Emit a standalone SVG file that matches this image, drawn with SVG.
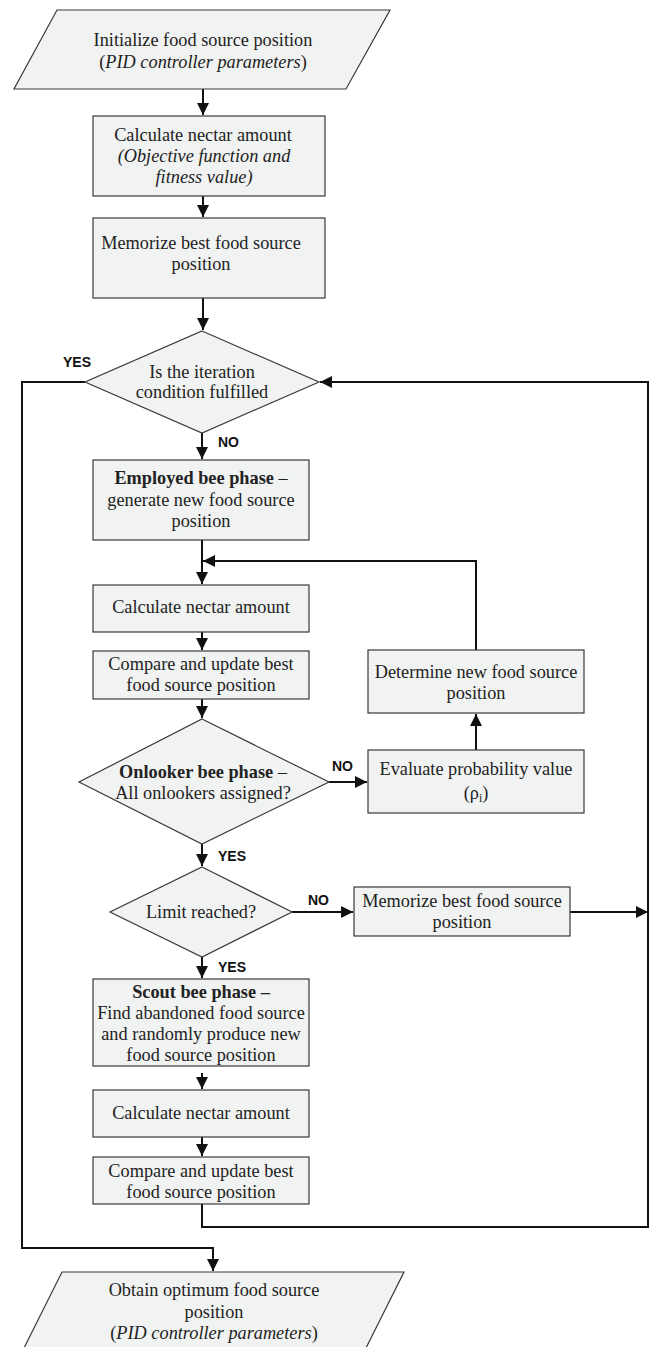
<svg xmlns="http://www.w3.org/2000/svg" width="650" height="1347" viewBox="0 0 650 1347">
<style>
.n{fill:#f1f3f2;stroke:#3a3a3a;stroke-width:1.2}
.t{font-family:"Liberation Serif","Times New Roman",serif;font-size:18.3px;fill:#222;text-anchor:middle}
.b{font-weight:bold}
.i{font-style:italic}
.l{font-family:"Liberation Sans",Arial,sans-serif;font-size:14px;font-weight:bold;fill:#111}
.c{fill:none;stroke:#111;stroke-width:2}
</style>
<defs>
<marker id="ah" markerUnits="userSpaceOnUse" markerWidth="13" markerHeight="12" refX="12" refY="6" orient="auto">
<path d="M0,0 L12,6 L0,12 Z" fill="#111"/>
</marker>
</defs>
<rect width="650" height="1347" fill="#fff"/>
<g id="connectors">
<path class="c" d="M203,89 V115" marker-end="url(#ah)"/>
<path class="c" d="M203,196 V217" marker-end="url(#ah)"/>
<path class="c" d="M203,298 V330" marker-end="url(#ah)"/>
<path class="c" d="M202,433 V459" marker-end="url(#ah)"/>
<path class="c" d="M202,540 V584" marker-end="url(#ah)"/>
<path class="c" d="M476,650 V561 H203" marker-end="url(#ah)"/>
<path class="c" d="M202,632 V650" marker-end="url(#ah)"/>
<path class="c" d="M202,699 V718" marker-end="url(#ah)"/>
<path class="c" d="M329,782 H367" marker-end="url(#ah)"/>
<path class="c" d="M476,750 V714" marker-end="url(#ah)"/>
<path class="c" d="M202,844 V866" marker-end="url(#ah)"/>
<path class="c" d="M292,912 H353" marker-end="url(#ah)"/>
<path class="c" d="M570,912 H648" marker-end="url(#ah)"/>
<path class="c" d="M202,957 V978" marker-end="url(#ah)"/>
<path class="c" d="M202,1073 V1089" marker-end="url(#ah)"/>
<path class="c" d="M202,1137 V1156" marker-end="url(#ah)"/>
<path class="c" d="M202,1204 V1227 H648 V382 H320" marker-end="url(#ah)"/>
<path class="c" d="M85,382 H22 V1248 H213 V1271" marker-end="url(#ah)"/>
<text class="l" x="63" y="367">YES</text>
<text class="l" x="218" y="447">NO</text>
<text class="l" x="332" y="771">NO</text>
<text class="l" x="218" y="861">YES</text>
<text class="l" x="308" y="905">NO</text>
<text class="l" x="218" y="972">YES</text>
</g>
<g id="init">
<polygon class="n" points="57,10 390,10 346,89 14,89"/>
<text class="t" x="203" y="46">Initialize food source position</text>
<text class="t" x="203" y="68">(<tspan class="i">PID controller  parameters</tspan>)</text>
</g>
<g id="calc1">
<rect class="n" x="93" y="116" width="232" height="80"/>
<text class="t" x="203" y="141">Calculate nectar amount</text>
<text class="t i" x="204" y="162">(Objective function and</text>
<text class="t i" x="204" y="183">fitness value)</text>
</g>
<g id="memo1">
<rect class="n" x="93" y="218" width="232" height="80"/>
<text class="t" x="201" y="249">Memorize best food source</text>
<text class="t" x="201" y="270">position</text>
</g>
<g id="iter">
<polygon class="n" points="202,331 319,382 202,433 85,382"/>
<text class="t" x="202" y="378">Is the iteration</text>
<text class="t" x="202" y="398">condition fulfilled</text>
</g>
<g id="employed">
<rect class="n" x="93" y="460" width="216" height="80"/>
<text class="t" x="201" y="484"><tspan class="b">Employed bee phase</tspan>  –</text>
<text class="t" x="201" y="506">generate new food source</text>
<text class="t" x="201" y="527">position</text>
</g>
<g id="calc2">
<rect class="n" x="93" y="585" width="216" height="47"/>
<text class="t" x="201" y="613">Calculate nectar amount</text>
</g>
<g id="compare1">
<rect class="n" x="93" y="651" width="216" height="48"/>
<text class="t" x="201" y="670">Compare and update best</text>
<text class="t" x="201" y="691">food source position</text>
</g>
<g id="onlooker">
<polygon class="n" points="202,719 329,782 202,844 79,782"/>
<text class="t" x="203" y="778"><tspan class="b">Onlooker bee phase</tspan>  –</text>
<text class="t" x="203" y="799">All onlookers assigned?</text>
</g>
<g id="determine">
<rect class="n" x="368" y="650" width="216" height="63"/>
<text class="t" x="476" y="678">Determine new food source</text>
<text class="t" x="476" y="699">position</text>
</g>
<g id="evaluate">
<rect class="n" x="368" y="750" width="216" height="63"/>
<text class="t" x="476" y="775">Evaluate probability value</text>
<text class="t" x="476" y="799">(ρ<tspan font-size="12" dy="3">i</tspan><tspan dy="-3">)</tspan></text>
</g>
<g id="limit">
<polygon class="n" points="202,867 292,912 202,957 110,912"/>
<text class="t" x="201" y="918">Limit reached?</text>
</g>
<g id="memo2">
<rect class="n" x="354" y="887" width="216" height="49"/>
<text class="t" x="462" y="907">Memorize best food source</text>
<text class="t" x="462" y="928">position</text>
</g>
<g id="scout">
<rect class="n" x="93" y="979" width="216" height="87"/>
<text class="t b" x="201" y="998">Scout bee phase  –</text>
<text class="t" x="201" y="1019">Find abandoned food source</text>
<text class="t" x="201" y="1040">and randomly produce new</text>
<text class="t" x="201" y="1061">food source position</text>
</g>
<g id="calc3">
<rect class="n" x="93" y="1090" width="216" height="47"/>
<text class="t" x="201" y="1119">Calculate nectar amount</text>
</g>
<g id="compare3">
<rect class="n" x="93" y="1157" width="216" height="47"/>
<text class="t" x="201" y="1177">Compare and update best</text>
<text class="t" x="201" y="1198">food source position</text>
</g>
<g id="obtain">
<polygon class="n" points="62,1272 404,1272 364,1352 22,1352"/>
<text class="t" x="214" y="1296">Obtain optimum food source</text>
<text class="t" x="214" y="1318">position</text>
<text class="t" x="214" y="1339">(<tspan class="i">PID controller  parameters</tspan>)</text>
</g>
</svg>
